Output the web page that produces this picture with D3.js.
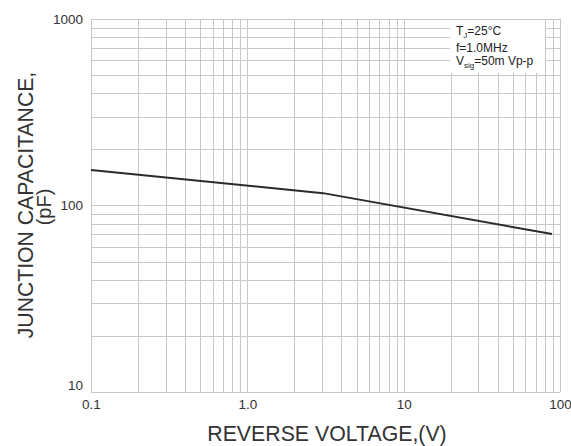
<!DOCTYPE html>
<html><head><meta charset="utf-8">
<script src="https://cdn.jsdelivr.net/npm/d3@7"></script>
<style>body{margin:0;background:#fff}svg{display:block;font-family:Arial,"Liberation Sans",sans-serif}</style>
</head><body><svg id="c" width="571" height="446"></svg>
<script>
const voltage = [0.1, 3.05, 89];
const capacitance = [155, 116.5, 70.3];
const xTickValues = [0.1, 1, 10, 100];
const xTickLabels = ["0.1", "1.0", "10", "100"];
const yTickValues = [10, 100, 1000];
const yTickLabels = ["10", "100", "1000"];
const notes = ["T_J=25°C", "f=1.0MHz", "V_sig=50m Vp-p"];

const svg = d3.select("#c");
const L = 91, R = 560, T = 19, B = 392;
const x = d3.scaleLog().domain([0.1, 100]).range([L, R]);
const y = d3.scaleLog().domain([10, 1000]).range([B, T]);

// grid
const xGrid = [], yGrid = [];
for (let d = 0.1; d < 100; d *= 10) for (let k = 1; k <= 10; k++) xGrid.push(+(d * k).toPrecision(3));
for (let d = 10; d < 1000; d *= 10) for (let k = 1; k <= 10; k++) yGrid.push(+(d * k).toPrecision(3));
const g = svg.append("g");
g.selectAll("line.vx").data([...new Set(xGrid)]).enter().append("line")
  .attr("x1", d => Math.round(x(d)) + 0.5).attr("x2", d => Math.round(x(d)) + 0.5)
  .attr("y1", T).attr("y2", B).attr("stroke", "#c8c8c8").attr("stroke-width", 1);
g.selectAll("line.hy").data([...new Set(yGrid)]).enter().append("line")
  .attr("y1", d => Math.round(y(d)) + 0.5).attr("y2", d => Math.round(y(d)) + 0.5)
  .attr("x1", L).attr("x2", R).attr("stroke", "#c8c8c8").attr("stroke-width", 1);

// note box
svg.append("rect").attr("x", 450).attr("y", T + 1).attr("width", 95).attr("height", 53).attr("fill", "#fff");
const nt = svg.append("g").attr("font-size", 12).attr("fill", "#222");
const t1 = nt.append("text").attr("x", 456).attr("y", 35);
t1.append("tspan").text("T");
t1.append("tspan").attr("font-size", 8).attr("dy", 3).text("J");
t1.append("tspan").attr("dy", -3).text("=25°C");
nt.append("text").attr("x", 456).attr("y", 51.5).text(notes[1]);
const t3 = nt.append("text").attr("x", 456).attr("y", 65);
t3.append("tspan").text("V");
t3.append("tspan").attr("font-size", 8).attr("dy", 3).text("sig");
t3.append("tspan").attr("dy", -3).text("=50m Vp-p");

// curve
const pts = voltage.map((v, i) => [v, capacitance[i]]);
svg.append("path").datum(pts)
  .attr("d", d3.line().x(d => x(d[0])).y(d => y(d[1])))
  .attr("fill", "none").attr("stroke", "#2b2b2b").attr("stroke-width", 2);

// axes
const xAxis = d3.axisBottom(x).tickValues(xTickValues).tickFormat((d, i) => xTickLabels[i]).tickSize(0).tickPadding(7);
const gx = svg.append("g").attr("transform", `translate(0,${B})`).call(xAxis);
gx.select(".domain").remove();
gx.selectAll("text").attr("font-size", 13.5).attr("fill", "#333").attr("font-family", "Arial,'Liberation Sans',sans-serif");

const yAxis = d3.axisLeft(y).tickValues(yTickValues).tickFormat((d, i) => yTickLabels[i]).tickSize(0).tickPadding(8);
const gy = svg.append("g").attr("transform", `translate(${L},0)`).call(yAxis);
gy.select(".domain").remove();
gy.selectAll("text").attr("font-size", 13.5).attr("fill", "#333").attr("font-family", "Arial,'Liberation Sans',sans-serif");
gy.selectAll(".tick").filter(d => d === 10).select("text").attr("dy", "-0.2em");

// titles
svg.append("text").attr("x", 327).attr("y", 441).attr("text-anchor", "middle")
  .attr("font-size", 21.3).attr("fill", "#333").text("REVERSE VOLTAGE,(V)");
svg.append("text").attr("transform", "translate(33,205) rotate(-90)").attr("text-anchor", "middle")
  .attr("font-size", 21.2).attr("fill", "#333").text("JUNCTION CAPACITANCE,");
svg.append("text").attr("transform", "translate(51,207) rotate(-90)").attr("text-anchor", "middle")
  .attr("font-size", 20).attr("fill", "#333").text("(pF)");
</script></body></html>
